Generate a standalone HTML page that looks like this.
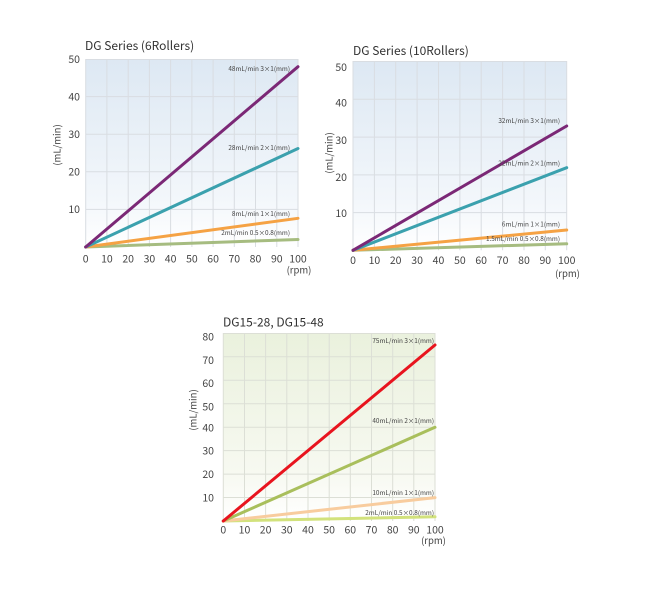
<!DOCTYPE html>
<html><head><meta charset="utf-8">
<style>
html,body{margin:0;padding:0;background:#fff;}
svg{display:block;}
text{font-family:"Noto Sans CJK SC","Liberation Sans",sans-serif;fill:#444;}
.t{font-size:12px;fill:#333;}
.k{font-size:10.5px;fill:#3a3a3a;}
.l{font-size:6.4px;fill:#444;}
.ax{font-size:9.5px;}
</style></head><body>
<svg width="647" height="591" viewBox="0 0 647 591" xmlns="http://www.w3.org/2000/svg">
<defs>
<linearGradient id="gb" x1="0" y1="0" x2="0" y2="1">
<stop offset="0" stop-color="#dde8f3"/><stop offset="0.75" stop-color="#f3f7fb"/><stop offset="1" stop-color="#ffffff"/>
</linearGradient>
<linearGradient id="gg" x1="0" y1="0" x2="0" y2="1">
<stop offset="0" stop-color="#eaf1dd"/><stop offset="0.75" stop-color="#f7f9f1"/><stop offset="1" stop-color="#ffffff"/>
</linearGradient>
</defs>

<!-- Chart 1 -->
<text class="t" x="85" y="50">DG Series (6Rollers)</text>
<rect x="85.7" y="59" width="212.3" height="188" fill="url(#gb)"/>
<g stroke="#d9dde2" stroke-width="1">
<line x1="106.9" y1="59" x2="106.9" y2="247"/><line x1="128.2" y1="59" x2="128.2" y2="247"/><line x1="149.4" y1="59" x2="149.4" y2="247"/><line x1="170.6" y1="59" x2="170.6" y2="247"/><line x1="191.9" y1="59" x2="191.9" y2="247"/><line x1="213.1" y1="59" x2="213.1" y2="247"/><line x1="234.3" y1="59" x2="234.3" y2="247"/><line x1="255.5" y1="59" x2="255.5" y2="247"/><line x1="276.8" y1="59" x2="276.8" y2="247"/><line x1="298" y1="59" x2="298" y2="247"/>
<line x1="85.7" y1="59.5" x2="298" y2="59.5"/><line x1="85.7" y1="96.6" x2="298" y2="96.6"/><line x1="85.7" y1="134.2" x2="298" y2="134.2"/><line x1="85.7" y1="171.8" x2="298" y2="171.8"/><line x1="85.7" y1="209.4" x2="298" y2="209.4"/>
<line x1="85.7" y1="59" x2="85.7" y2="247"/>
</g>
<g stroke-width="3" stroke-linecap="round">
<line x1="85.7" y1="247" x2="298" y2="239.5" stroke="#a6bc80"/>
<line x1="85.7" y1="247" x2="298" y2="218.3" stroke="#f5a244"/>
<line x1="85.7" y1="247" x2="298" y2="148.5" stroke="#3ba1ae"/>
<line x1="85.7" y1="247" x2="298" y2="66.7" stroke="#7b2876"/>
</g>
<g class="l" text-anchor="end">
<text x="290" y="71">48mL/min 3×1(mm)</text>
<text x="290" y="149.8">28mL/min 2×1(mm)</text>
<text x="290" y="215.8">8mL/min 1×1(mm)</text>
<text x="290" y="234.8">2mL/min 0.5×0.8(mm)</text>
</g>
<g class="k" text-anchor="end">
<text x="80" y="62.8">50</text><text x="80" y="100.3">40</text><text x="80" y="137.9">30</text><text x="80" y="175.5">20</text><text x="80" y="213.1">10</text>
</g>
<g class="k" text-anchor="middle">
<text x="85.7" y="262.3">0</text><text x="106.9" y="262.3">10</text><text x="128.2" y="262.3">20</text><text x="149.4" y="262.3">30</text><text x="170.6" y="262.3">40</text><text x="191.9" y="262.3">50</text><text x="213.1" y="262.3">60</text><text x="234.3" y="262.3">70</text><text x="255.5" y="262.3">80</text><text x="276.8" y="262.3">90</text><text x="298" y="262.3">100</text>
<text class="ax" x="299" y="273.5">(rpm)</text>
</g>
<text class="ax" text-anchor="middle" transform="translate(60.5,145) rotate(-90)">(mL/min)</text>

<!-- Chart 2 -->
<text class="t" x="353" y="55">DG Series (10Rollers)</text>
<rect x="353" y="61" width="213.7" height="189.3" fill="url(#gb)"/>
<g stroke="#d9dde2" stroke-width="1">
<line x1="374.4" y1="61" x2="374.4" y2="250.3"/><line x1="395.7" y1="61" x2="395.7" y2="250.3"/><line x1="417.1" y1="61" x2="417.1" y2="250.3"/><line x1="438.5" y1="61" x2="438.5" y2="250.3"/><line x1="459.9" y1="61" x2="459.9" y2="250.3"/><line x1="481.2" y1="61" x2="481.2" y2="250.3"/><line x1="502.6" y1="61" x2="502.6" y2="250.3"/><line x1="524" y1="61" x2="524" y2="250.3"/><line x1="545.3" y1="61" x2="545.3" y2="250.3"/><line x1="566.7" y1="61" x2="566.7" y2="250.3"/>
<line x1="353" y1="61.5" x2="566.7" y2="61.5"/><line x1="353" y1="99.3" x2="566.7" y2="99.3"/><line x1="353" y1="137.1" x2="566.7" y2="137.1"/><line x1="353" y1="174.9" x2="566.7" y2="174.9"/><line x1="353" y1="212.6" x2="566.7" y2="212.6"/>
<line x1="353" y1="61" x2="353" y2="250.3"/>
</g>
<g stroke-width="3" stroke-linecap="round">
<line x1="353" y1="250.3" x2="566.7" y2="243.8" stroke="#a6bc80"/>
<line x1="353" y1="250.3" x2="566.7" y2="230" stroke="#f5a244"/>
<line x1="353" y1="250.3" x2="566.7" y2="167.7" stroke="#3ba1ae"/>
<line x1="353" y1="250.3" x2="566.7" y2="126" stroke="#7b2876"/>
</g>
<g class="l" text-anchor="end">
<text x="560" y="122.8">32mL/min 3×1(mm)</text>
<text x="560" y="165.4">22mL/min 2×1(mm)</text>
<text x="560" y="226.4">6mL/min 1×1(mm)</text>
<text x="560" y="241.1">1.5mL/min 0.5×0.8(mm)</text>
</g>
<g class="k" text-anchor="end">
<text x="347" y="71">50</text><text x="347" y="106.5">40</text><text x="347" y="143.8">30</text><text x="347" y="181">20</text><text x="347" y="217">10</text>
</g>
<g class="k" text-anchor="middle">
<text x="353" y="263.8">0</text><text x="374.4" y="263.8">10</text><text x="395.7" y="263.8">20</text><text x="417.1" y="263.8">30</text><text x="438.5" y="263.8">40</text><text x="459.9" y="263.8">50</text><text x="481.2" y="263.8">60</text><text x="502.6" y="263.8">70</text><text x="524" y="263.8">80</text><text x="545.3" y="263.8">90</text><text x="566.7" y="263.8">100</text>
<text class="ax" x="567.5" y="276.8">(rpm)</text>
</g>
<text class="ax" text-anchor="middle" transform="translate(332.5,153) rotate(-90)">(mL/min)</text>

<!-- Chart 3 -->
<text class="t" x="223" y="326.5">DG15-28, DG15-48</text>
<rect x="223.3" y="333" width="211.7" height="188" fill="url(#gg)"/>
<g stroke="#dcdfd6" stroke-width="1">
<line x1="244.5" y1="333" x2="244.5" y2="521"/><line x1="265.6" y1="333" x2="265.6" y2="521"/><line x1="286.8" y1="333" x2="286.8" y2="521"/><line x1="308" y1="333" x2="308" y2="521"/><line x1="329.2" y1="333" x2="329.2" y2="521"/><line x1="350.3" y1="333" x2="350.3" y2="521"/><line x1="371.5" y1="333" x2="371.5" y2="521"/><line x1="392.7" y1="333" x2="392.7" y2="521"/><line x1="413.8" y1="333" x2="413.8" y2="521"/><line x1="435" y1="333" x2="435" y2="521"/>
<line x1="223.3" y1="333.5" x2="435" y2="333.5"/><line x1="223.3" y1="356.8" x2="435" y2="356.8"/><line x1="223.3" y1="380.3" x2="435" y2="380.3"/><line x1="223.3" y1="403.7" x2="435" y2="403.7"/><line x1="223.3" y1="427.2" x2="435" y2="427.2"/><line x1="223.3" y1="450.6" x2="435" y2="450.6"/><line x1="223.3" y1="474.1" x2="435" y2="474.1"/><line x1="223.3" y1="497.5" x2="435" y2="497.5"/>
<line x1="223.3" y1="333" x2="223.3" y2="521"/>
</g>
<g stroke-width="3" stroke-linecap="round">
<line x1="223.3" y1="521" x2="435" y2="516.8" stroke="#d2e27c"/>
<line x1="223.3" y1="521" x2="435" y2="497.6" stroke="#f8cc9e"/>
<line x1="223.3" y1="521" x2="435" y2="427.3" stroke="#a9bf5c"/>
<line x1="223.3" y1="521" x2="435" y2="345" stroke="#e8141e"/>
</g>
<g class="l" text-anchor="end">
<text x="434" y="343">75mL/min 3×1(mm)</text>
<text x="434" y="422.8">40mL/min 2×1(mm)</text>
<text x="434" y="495">10mL/min 1×1(mm)</text>
<text x="434" y="515">2mL/min 0.5×0.8(mm)</text>
</g>
<g class="k" text-anchor="end">
<text x="214" y="340.5">80</text><text x="214" y="363.8">70</text><text x="214" y="387.1">60</text><text x="214" y="410.5">50</text><text x="214" y="431.3">40</text><text x="214" y="454.5">30</text><text x="214" y="478.1">20</text><text x="214" y="501.5">10</text>
</g>
<g class="k" text-anchor="middle">
<text x="223.3" y="533.3">0</text><text x="244.5" y="533.3">10</text><text x="265.6" y="533.3">20</text><text x="286.8" y="533.3">30</text><text x="308" y="533.3">40</text><text x="329.2" y="533.3">50</text><text x="350.3" y="533.3">60</text><text x="371.5" y="533.3">70</text><text x="392.7" y="533.3">80</text><text x="413.8" y="533.3">90</text><text x="435" y="533.3">100</text>
<text class="ax" x="433.5" y="544.2">(rpm)</text>
</g>
<text class="ax" text-anchor="middle" transform="translate(196.5,410) rotate(-90)">(mL/min)</text>
</svg>
</body></html>
